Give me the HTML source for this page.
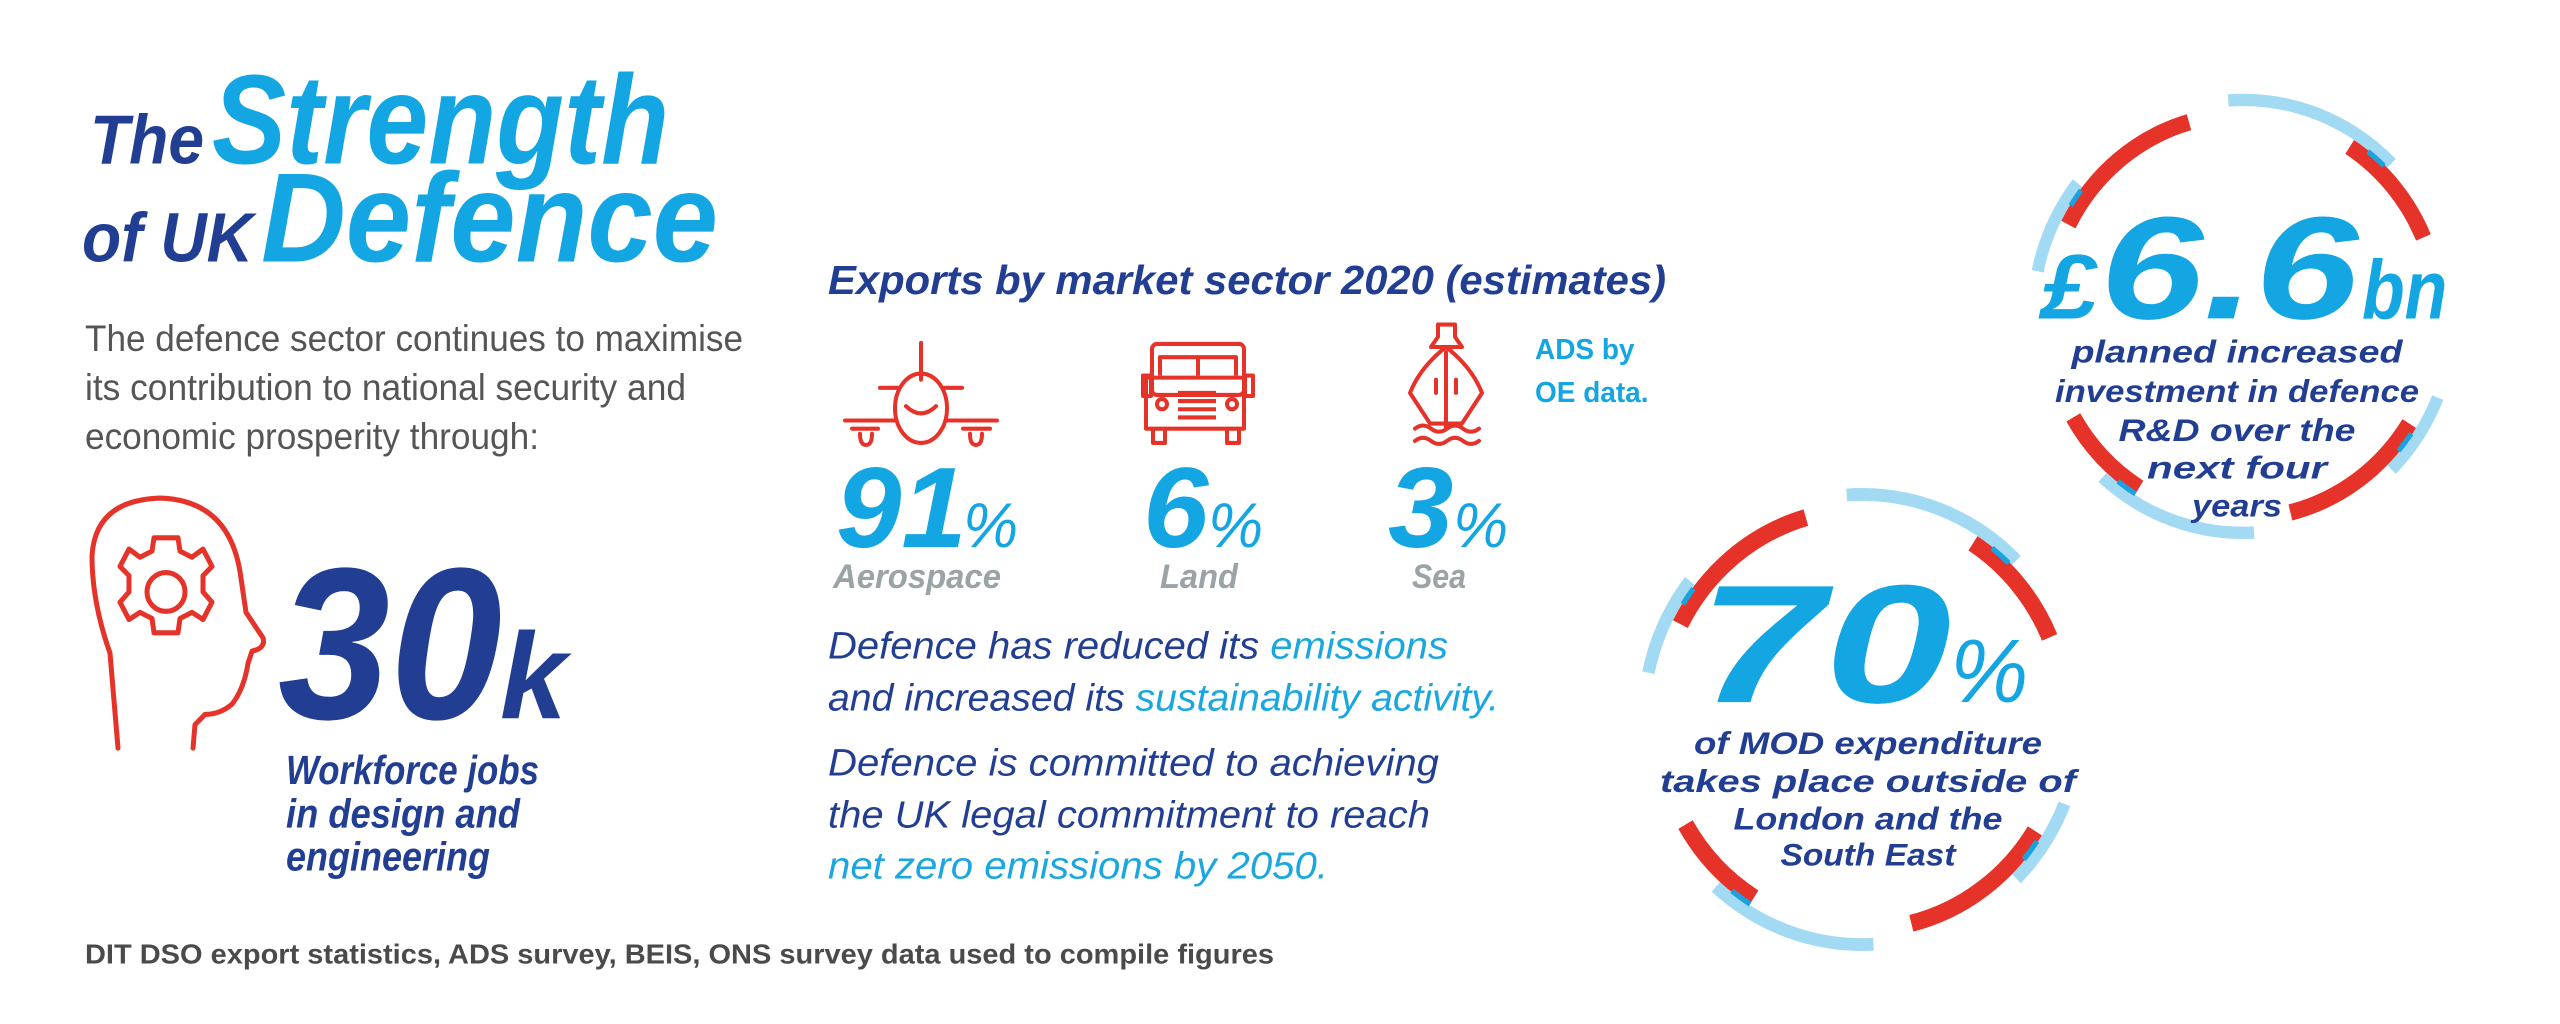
<!DOCTYPE html>
<html><head><meta charset="utf-8"><style>
html,body{margin:0;padding:0;background:#fff;width:2560px;height:1024px;overflow:hidden}
text{font-family:"Liberation Sans",Arial,sans-serif}
.bi{font-weight:bold;font-style:italic}
.db{fill:#213e93}.cy{fill:#13a6e2}
</style></head><body>
<svg width="2560" height="1024" viewBox="0 0 2560 1024" xmlns="http://www.w3.org/2000/svg">
<defs>
<g id="ring" fill="none">
<g stroke="#a3daf3" stroke-width="12">
<path d="M-14.7 -209.5 A210 210 0 0 1 148.5 -148.5"/>
<path d="M-205.4 -43.7 A210 210 0 0 1 -165.5 -129.3"/>
<path d="M11 209.7 A210 210 0 0 1 -140.5 156.1"/>
<path d="M194.7 78.7 A210 210 0 0 1 148.5 148.5"/>
</g>
<g stroke="#e63329" stroke-width="16">
<path d="M-174.6 -89 A196 196 0 0 1 -54 -188.4"/>
<path d="M-103.9 166.2 A196 196 0 0 1 -169.7 98"/>
<path d="M166.2 103.9 A196 196 0 0 1 47.4 190.2"/>
<path d="M106.7 -164.4 A196 196 0 0 1 180.4 -76.6"/>
</g>
<g stroke="#1aa2de" stroke-width="5">
<path d="M-172.2 -107.6 A203 203 0 0 1 -162.1 -122.2"/>
<path d="M125 -160 A203 203 0 0 1 141 -146"/>
<path d="M-107.6 172.2 A203 203 0 0 1 -125 160"/>
<path d="M168.3 113.5 A203 203 0 0 1 155.5 130.5"/>
</g>
</g>
</defs>
<g transform="scale(1,1.0206)">
<!-- Title -->
<text x="90" y="160" class="bi db" font-size="68" textLength="114" lengthAdjust="spacingAndGlyphs">The</text>
<text x="212" y="160" class="bi cy" font-size="125" textLength="457" lengthAdjust="spacingAndGlyphs">Strength</text>
<text x="82" y="256" class="bi db" font-size="68" textLength="171" lengthAdjust="spacingAndGlyphs">of UK</text>
<text x="261" y="256" class="bi cy" font-size="125" textLength="457" lengthAdjust="spacingAndGlyphs">Defence</text>
<g font-size="36" fill="#555">
<text x="85" y="344" textLength="658" lengthAdjust="spacingAndGlyphs">The defence sector continues to maximise</text>
<text x="85" y="392" textLength="601" lengthAdjust="spacingAndGlyphs">its contribution to national security and</text>
<text x="85" y="440" textLength="454" lengthAdjust="spacingAndGlyphs">economic prosperity through:</text>
</g>
<!-- head icon -->
<g fill="none" stroke="#e63329" stroke-width="5" stroke-linejoin="round" stroke-linecap="round">
<path d="M118 733 L110 640 Q92 590 92 545 Q95 490 160 488 Q228 490 240 560 L246 600 L263 625 Q266 635 252 638 L248 650 Q244 675 232 690 Q220 700 205 700 L195 710 L193 733"/>
<circle cx="166" cy="580" r="19"/>
<path d="M154 527 L178 527 L180 540 L192 546 L203 538 L212 555 L203 564 L203 580 L212 590 L203 607 L192 600 L180 606 L178 620 L154 620 L152 606 L140 600 L129 607 L120 590 L129 580 L129 564 L120 555 L129 538 L140 546 L152 540 Z"/>
</g>
<text transform="translate(278,704) scale(0.95,1)" class="bi db" font-size="212">30</text>
<text transform="translate(500,704)" class="bi db" font-size="120">k</text>
<g class="bi db" font-size="40">
<text x="286" y="768" textLength="253" lengthAdjust="spacingAndGlyphs">Workforce jobs</text>
<text x="286" y="811" textLength="234" lengthAdjust="spacingAndGlyphs">in design and</text>
<text x="286" y="853" textLength="204" lengthAdjust="spacingAndGlyphs">engineering</text>
</g>
<text x="85" y="944" font-size="27" font-weight="bold" fill="#4a4a4a" textLength="1189" lengthAdjust="spacingAndGlyphs">DIT DSO export statistics, ADS survey, BEIS, ONS survey data used to compile figures</text>

<!-- middle -->
<text x="828" y="288" class="bi db" font-size="40" textLength="838" lengthAdjust="spacingAndGlyphs">Exports by market sector 2020 (estimates)</text>
<text x="1535" y="352" font-size="28" font-weight="bold" class="cy">ADS by</text>
<text x="1535" y="394" font-size="28" font-weight="bold" class="cy">OE data.</text>
<!-- plane -->
<g fill="none" stroke="#e63329" stroke-width="4" stroke-linecap="round">
<line x1="921" y1="336" x2="921" y2="372"/>
<ellipse cx="921" cy="400" rx="26" ry="34"/>
<path d="M906 398 Q921 412 936 398"/>
<line x1="880" y1="380" x2="898" y2="380"/><line x1="944" y1="380" x2="962" y2="380"/>
<line x1="845" y1="412" x2="895" y2="412"/><line x1="947" y1="412" x2="997" y2="412"/>
<line x1="852" y1="420" x2="878" y2="420"/><line x1="963" y1="420" x2="990" y2="420"/>
<path d="M860 425 Q860 436 866 436 Q872 436 872 425"/>
<path d="M970 425 Q970 436 976 436 Q982 436 982 425"/>
</g>
<!-- truck -->
<g fill="none" stroke="#e63329" stroke-width="4" stroke-linejoin="round">
<rect x="1152" y="337" width="92" height="50" rx="5"/>
<path d="M1160 368 L1160 350 L1236 350 L1236 368"/>
<line x1="1198" y1="350" x2="1198" y2="368"/>
<path d="M1152 370 L1244 370 L1244 420 L1146 420 L1146 370 Z"/>
<rect x="1143" y="368" width="8" height="20"/><rect x="1245" y="368" width="8" height="20"/>
<circle cx="1162" cy="396" r="5"/><circle cx="1232" cy="396" r="5"/>
<line x1="1178" y1="385" x2="1216" y2="385"/><line x1="1178" y1="393" x2="1216" y2="393"/><line x1="1178" y1="401" x2="1216" y2="401"/><line x1="1178" y1="409" x2="1216" y2="409"/>
<path d="M1153 420 L1153 434 L1165 434 L1165 420"/><path d="M1227 420 L1227 434 L1239 434 L1239 420"/>
</g>
<!-- ship -->
<g fill="none" stroke="#e63329" stroke-width="4" stroke-linejoin="round" stroke-linecap="round">
<path d="M1438 318 L1455 318 L1455 330 L1462 340 L1431 340 L1438 330 Z"/>
<path d="M1446 340 Q1420 360 1410 385 L1430 415 L1462 415 L1482 385 Q1472 360 1446 340 Z"/>
<line x1="1446" y1="345" x2="1446" y2="420"/>
<line x1="1436" y1="372" x2="1436" y2="385"/><line x1="1456" y1="372" x2="1456" y2="385"/>
<path d="M1415 420 q8 -6 16 0 t16 0 t16 0 t16 0"/>
<path d="M1415 432 q8 -6 16 0 t16 0 t16 0 t16 0"/>
</g>
<text transform="translate(836,536) scale(1.05,1)" class="bi cy" font-size="112">91</text>
<text x="963" y="536" class="cy" font-size="62" font-style="italic">%</text>
<text transform="translate(1143,536) scale(1.05,1)" class="bi cy" font-size="112">6</text>
<text x="1208" y="536" class="cy" font-size="62" font-style="italic">%</text>
<text transform="translate(1388,536) scale(1.05,1)" class="bi cy" font-size="112">3</text>
<text x="1453" y="536" class="cy" font-size="62" font-style="italic">%</text>
<g class="bi" font-size="34" fill="#9aa3a6">
<text x="833" y="576" textLength="168" lengthAdjust="spacingAndGlyphs">Aerospace</text>
<text x="1160" y="576" textLength="78" lengthAdjust="spacingAndGlyphs">Land</text>
<text x="1412" y="576" textLength="54" lengthAdjust="spacingAndGlyphs">Sea</text>
</g>
<g font-size="37" font-style="italic" fill="#213e93">
<text x="828" y="645" textLength="620" lengthAdjust="spacingAndGlyphs">Defence has reduced its <tspan fill="#1aa7df">emissions</tspan></text>
<text x="828" y="696" textLength="671" lengthAdjust="spacingAndGlyphs">and increased its <tspan fill="#1aa7df">sustainability activity.</tspan></text>
<text x="828" y="760" textLength="611" lengthAdjust="spacingAndGlyphs">Defence is committed to achieving</text>
<text x="828" y="811" textLength="602" lengthAdjust="spacingAndGlyphs">the UK legal commitment to reach</text>
<text x="828" y="861" fill="#1aa7df" textLength="500" lengthAdjust="spacingAndGlyphs">net zero emissions by 2050.</text>
</g>

<use href="#ring" transform="translate(2243,310) scale(1,1.01)"/>
<use href="#ring" transform="translate(1862,705) scale(1.04,1.05)"/>

<text transform="translate(2041,312) scale(1.1,1)" class="bi cy" font-size="90">£</text>
<text transform="translate(2100,312) scale(1.3,1)" class="bi cy" font-size="143">6.6</text>
<text transform="translate(2362,312) scale(0.85,1)" class="bi cy" font-size="82">bn</text>
<g class="bi db" font-size="31" text-anchor="middle">
<text x="2237" y="355" textLength="331" lengthAdjust="spacingAndGlyphs">planned increased</text>
<text x="2237" y="394" textLength="364" lengthAdjust="spacingAndGlyphs">investment in defence</text>
<text x="2237" y="432" textLength="237" lengthAdjust="spacingAndGlyphs">R&amp;D over the</text>
<text x="2237" y="469" textLength="180" lengthAdjust="spacingAndGlyphs">next four</text>
<text x="2237" y="506" textLength="90" lengthAdjust="spacingAndGlyphs">years</text>
</g>
<text transform="translate(1698,688) scale(1.38,1)" class="bi cy" font-size="165">70</text>
<text x="1950" y="688" class="cy" font-size="88" font-style="italic">%</text>
<g class="bi db" font-size="31" text-anchor="middle">
<text x="1868" y="739" textLength="348" lengthAdjust="spacingAndGlyphs">of MOD expenditure</text>
<text x="1868" y="776" textLength="416" lengthAdjust="spacingAndGlyphs">takes place outside of</text>
<text x="1868" y="813" textLength="269" lengthAdjust="spacingAndGlyphs">London and the</text>
<text x="1868" y="848" textLength="175" lengthAdjust="spacingAndGlyphs">South East</text>
</g>
</g>
</svg>
</body></html>
